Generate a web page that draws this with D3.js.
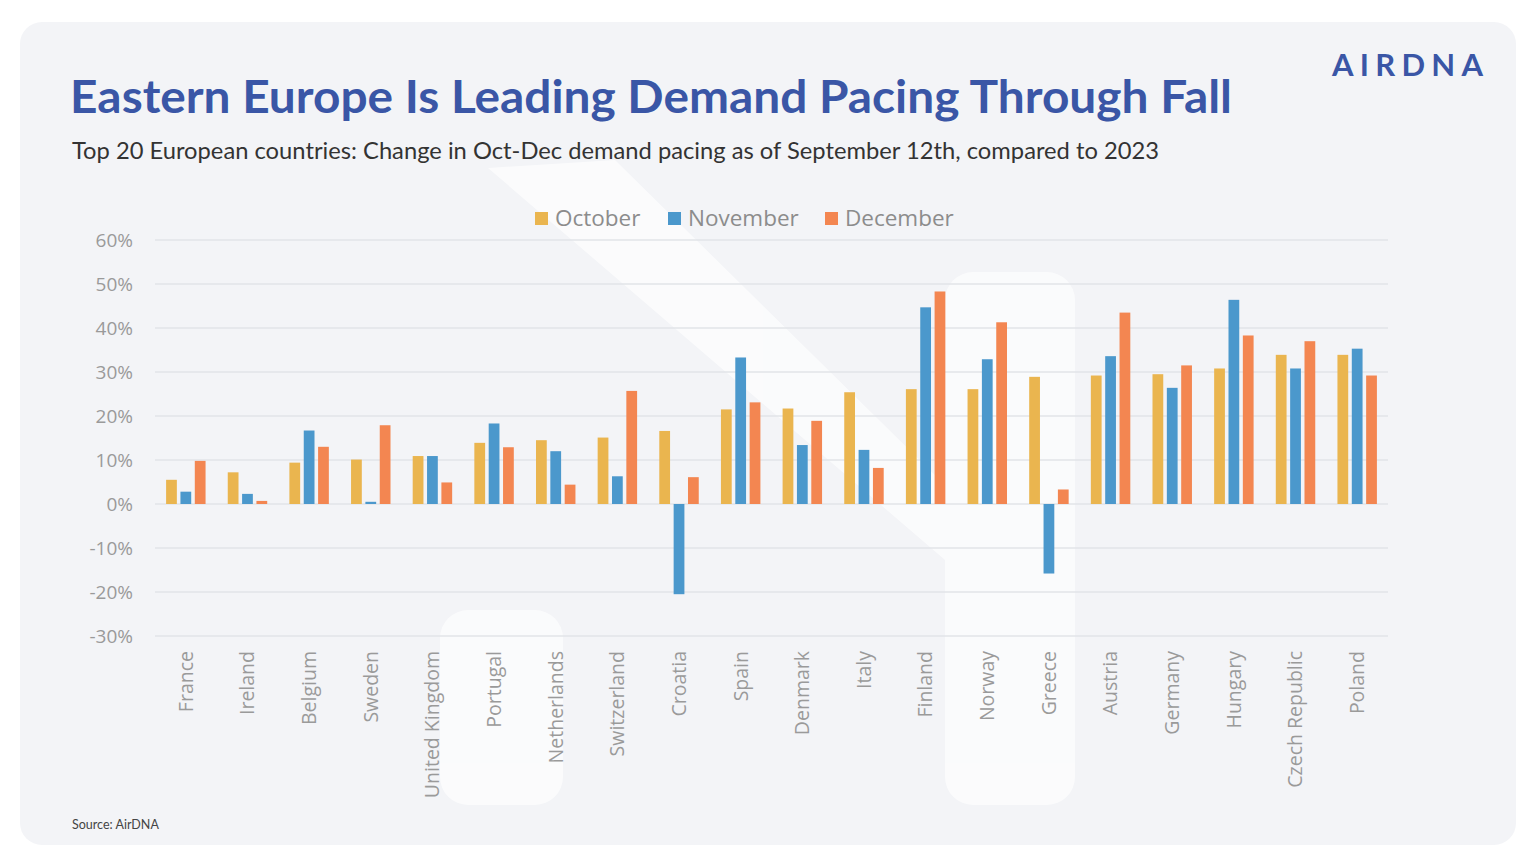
<!DOCTYPE html>
<html>
<head>
<meta charset="utf-8">
<script src="https://cdn.jsdelivr.net/npm/d3@7"></script>
<style>
  html, body { margin: 0; padding: 0; background: #ffffff; }
  svg { display: block; }
</style>
</head>
<body>
<svg id="chart" width="1536" height="857"></svg>
<script>
// ---- DATA ----
const countries = ["France","Ireland","Belgium","Sweden","United Kingdom","Portugal","Netherlands","Switzerland","Croatia","Spain","Denmark","Italy","Finland","Norway","Greece","Austria","Germany","Hungary","Czech Republic","Poland"];
const months = ["October","November","December"];
const october  = [5.5, 7.2, 9.4, 10.1, 10.9, 13.9, 14.5, 15.1, 16.6, 21.5, 21.7, 25.4, 26.1, 26.1, 28.9, 29.2, 29.5, 30.8, 33.9, 33.9];
const november = [2.8, 2.3, 16.7, 0.5, 10.9, 18.3, 12.0, 6.3, -20.5, 33.3, 13.4, 12.3, 44.7, 32.9, -15.8, 33.6, 26.4, 46.4, 30.8, 35.3];
const december = [9.8, 0.7, 13.0, 17.9, 4.9, 12.9, 4.4, 25.7, 6.1, 23.1, 18.9, 8.2, 48.3, 41.3, 3.3, 43.5, 31.5, 38.3, 37.0, 29.2];
const yTicks = [-30, -20, -10, 0, 10, 20, 30, 40, 50, 60];
const titleText = "Eastern Europe Is Leading Demand Pacing Through Fall";
const subtitleText = "Top 20 European countries: Change in Oct-Dec demand pacing as of September 12th, compared to 2023";
const sourceText = "Source: AirDNA";
const logoText = "AIRDNA";

const seriesValues = { October: october, November: november, December: december };
const colors = { October: "#eab54f", November: "#4b98cc", December: "#f38651" };

const svg = d3.select("#chart");

// card background
svg.append("rect").attr("x", 20).attr("y", 22).attr("width", 1496).attr("height", 823)
  .attr("rx", 22).attr("fill", "#f3f4f7");

// faint watermark shapes
const wm = svg.append("g").attr("fill", "#ffffff").attr("opacity", 0.65);
wm.append("path").attr("d", "M488,168 L615,160 L1072,610 L1072,700 L945,560 Z");
wm.append("rect").attr("x", 440).attr("y", 610).attr("width", 123).attr("height", 195).attr("rx", 28);
wm.append("rect").attr("x", 945).attr("y", 272).attr("width", 130).attr("height", 533).attr("rx", 28);

// title & subtitle
svg.append("text").attr("x", 70).attr("y", 113)
  .attr("font-family", "Lato, 'Open Sans', sans-serif").attr("font-weight", 700)
  .attr("font-size", 45).attr("fill", "#3a56a6")
  .attr("textLength", 1162).attr("lengthAdjust", "spacingAndGlyphs")
  .text(titleText);
svg.append("text").attr("x", 72).attr("y", 159)
  .attr("font-family", "Lato, 'Open Sans', sans-serif")
  .attr("font-size", 23.5).attr("fill", "#333333")
  .attr("textLength", 1087).attr("lengthAdjust", "spacingAndGlyphs")
  .text(subtitleText);

// logo
svg.append("text").attr("x", 1332).attr("y", 76)
  .attr("font-family", "Lato, sans-serif").attr("font-weight", 700)
  .attr("font-size", 31).attr("fill", "#3a56a6")
  .attr("textLength", 151).attr("lengthAdjust", "spacing")
  .text(logoText);

// source
svg.append("text").attr("x", 72).attr("y", 829)
  .attr("font-family", "Lato, 'Open Sans', sans-serif")
  .attr("font-size", 12.5).attr("fill", "#444444")
  .text(sourceText);

// scales
const x0 = d3.scaleBand().domain(countries).range([155, 1388]).paddingInner(0.36).paddingOuter(0.18);
const x1 = d3.scaleBand().domain(months).range([0, x0.bandwidth()]).paddingInner(0.25);
const y = d3.scaleLinear().domain([-30, 60]).range([636, 240]);

// gridlines
svg.append("g").selectAll("line").data(yTicks).join("line")
  .attr("x1", 155).attr("x2", 1388)
  .attr("y1", d => y(d)).attr("y2", d => y(d))
  .attr("stroke", "#e2e4e8").attr("stroke-width", 1.3);

// y axis
const yAxis = d3.axisLeft(y).tickValues(yTicks).tickFormat(d => d + "%").tickSize(0).tickPadding(0);
const yg = svg.append("g").attr("transform", "translate(133,0)").call(yAxis);
yg.select(".domain").remove();
yg.selectAll("text").attr("font-family", "'Open Sans', sans-serif").attr("font-size", 19)
  .attr("fill", "#9a9a9a").attr("dy", "0.35em");

// bars
const groups = svg.append("g").selectAll("g").data(countries).join("g")
  .attr("transform", d => `translate(${x0(d)},0)`);
groups.selectAll("rect").data((c, i) => months.map(m => ({ m, v: seriesValues[m][i] }))).join("rect")
  .attr("x", d => x1(d.m)).attr("width", x1.bandwidth())
  .attr("y", d => y(Math.max(0, d.v)))
  .attr("height", d => Math.abs(y(d.v) - y(0)))
  .attr("fill", d => colors[d.m]);

// x axis labels
const xAxis = d3.axisBottom(x0).tickSize(0).tickPadding(0);
const xg = svg.append("g").attr("transform", "translate(0,651)").call(xAxis);
xg.select(".domain").remove();
xg.selectAll("text")
  .attr("font-family", "'Open Sans', sans-serif").attr("font-size", 19.5).attr("fill", "#9a9a9a")
  .attr("text-anchor", "end").attr("transform", "rotate(-90)")
  .attr("x", 0).attr("y", 0).attr("dy", "0.35em");

// legend
const legendX = { October: 535, November: 668, December: 825 };
const lg = svg.append("g").selectAll("g").data(months).join("g")
  .attr("transform", d => `translate(${legendX[d]},0)`);
lg.append("rect").attr("x", 0).attr("y", 212).attr("width", 13).attr("height", 13).attr("fill", d => colors[d]);
lg.append("text").attr("x", 20).attr("y", 226)
  .attr("font-family", "'Open Sans', sans-serif").attr("font-size", 22.5).attr("fill", "#8c8c8c")
  .text(d => d);
</script>
</body>
</html>
